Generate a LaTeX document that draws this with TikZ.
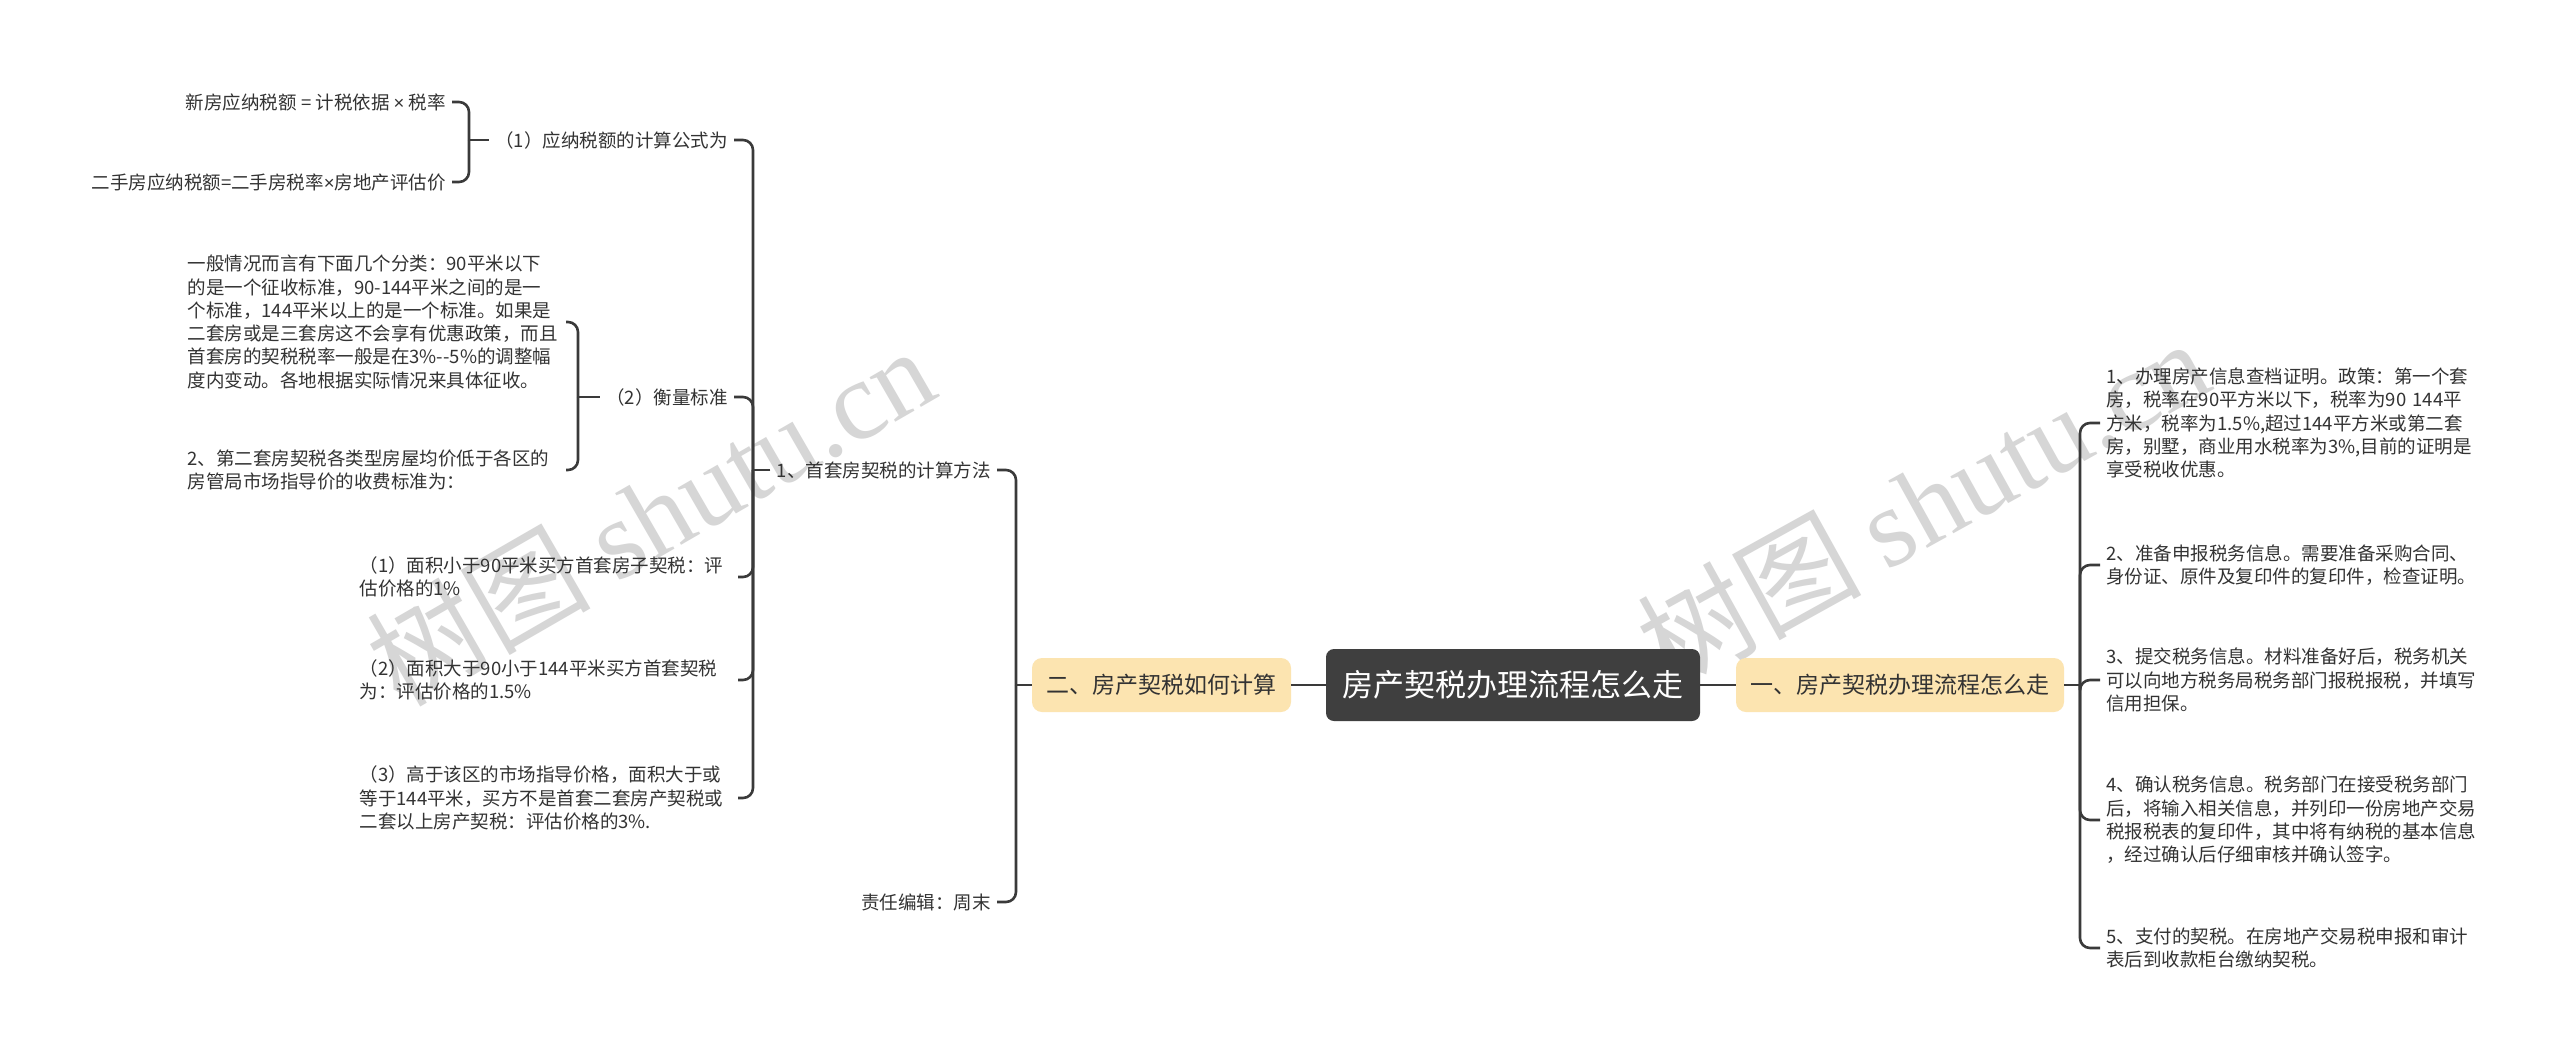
\documentclass[tikz,border=0pt]{standalone}
\usepackage{fontspec}
\setmainfont{Noto Sans CJK SC}
\newfontfamily\wmlatin{Liberation Serif}
\newfontfamily\latinsans{Liberation Sans}
\definecolor{connc}{HTML}{3A3A3A}
\definecolor{txtc}{HTML}{333333}
\definecolor{rootfill}{HTML}{3F3F3F}
\definecolor{brfill}{HTML}{FCE4B0}
\definecolor{wmc}{HTML}{D6D6D6}
\begin{document}
\begin{tikzpicture}[x=0.5pt,y=-0.5pt,
 conn/.style={draw=connc, line width=1.3pt},
 elbow/.style={conn, rounded corners=5pt},
 leaf/.style={text=txtc, font=\fontsize{9.25pt}{11.65pt}\selectfont, inner xsep=3pt, inner ysep=0pt, align=left},
 para/.style={leaf, text width=186pt},
 rootbox/.style={fill=rootfill, rounded corners=4pt, text=white, font=\fontsize{15.5pt}{18pt}\selectfont, minimum width=187pt, minimum height=36pt, inner sep=0pt},
 branch/.style={fill=brfill, rounded corners=5pt, text=txtc, font=\fontsize{11.5pt}{14pt}\selectfont, minimum height=27pt, inner sep=0pt},
 wm/.style={text=wmc, font=\fontsize{56pt}{56pt}\selectfont, inner sep=0pt}
]
\useasboundingbox[fill=white] (0,0) rectangle (2560,1057);

% watermarks
\node[wm, rotate=30] (wm1) at (650,515) {树图 {\wmlatin shutu.cn}};
\node[wm, rotate=29] (wm2) at (1922,503) {树图 {\wmlatin shutu.cn}};

% centre and main branches
\node[rootbox] (root) at (1513,685) {房产契税办理流程怎么走};
\node[branch, minimum width=164pt] (rb) at (1900,685) {一、房产契税办理流程怎么走};
\node[branch, minimum width=129.5pt] (lb) at (1161.5,685) {二、房产契税如何计算};
\draw[conn] (root.east) -- (rb.west);
\draw[conn] (root.west) -- (lb.east);

% right side items
\node[para, anchor=west] (r1) at (2100,423) {1、办理房产信息查档证明。政策：第一个套\\房，税率在90平方米以下，税率为90 144平\\方米，税率为1.5\%,超过144平方米或第二套\\房，别墅，商业用水税率为3\%,目前的证明是\\享受税收优惠。};
\node[para, anchor=west] (r2) at (2100,565) {2、准备申报税务信息。需要准备采购合同、\\身份证、原件及复印件的复印件，检查证明。};
\node[para, anchor=west] (r3) at (2100,680) {3、提交税务信息。材料准备好后，税务机关\\可以向地方税务局税务部门报税报税，并填写\\信用担保。};
\node[para, anchor=west] (r4) at (2100,820) {4、确认税务信息。税务部门在接受税务部门\\后，将输入相关信息，并列印一份房地产交易\\税报税表的复印件，其中将有纳税的基本信息\\，经过确认后仔细审核并确认签字。};
\node[para, anchor=west] (r5) at (2100,948) {5、支付的契税。在房地产交易税申报和审计\\表后到收款柜台缴纳契税。};
\coordinate (rt) at (2080,685);
\draw[conn] (rb.east) -- (rt);
\foreach \n in {r1,r2,r3,r4,r5} \draw[elbow] (rt) |- (\n.west);

% left side level 1
\node[leaf, anchor=east] (l1) at (997,470) {1、首套房契税的计算方法};
\node[leaf, anchor=east] (l2) at (997,902) {责任编辑：周末};
\coordinate (lt) at (1016,685);
\draw[conn] (lb.west) -- (lt);
\foreach \n in {l1,l2} \draw[elbow] (lt) |- (\n.east);

% children of l1
\node[leaf, anchor=east] (a1) at (734,140) {（1）应纳税额的计算公式为};
\node[leaf, anchor=east] (a2) at (734,397) {（2）衡量标准};
\node[para, anchor=east] (a3) at (738,577) {（1）面积小于90平米买方首套房子契税：评\\估价格的1\%};
\node[para, anchor=east] (a4) at (738,680) {（2）面积大于90小于144平米买方首套契税\\为：评估价格的1.5\%};
\node[para, anchor=east] (a5) at (738,798) {（3）高于该区的市场指导价格，面积大于或\\等于144平米，买方不是首套二套房产契税或\\二套以上房产契税：评估价格的3\%.};
\coordinate (t1) at (753,470);
\draw[conn] (l1.west) -- (t1);
\foreach \n in {a1,a2,a3,a4,a5} \draw[elbow] (t1) |- (\n.east);

% children of a1
\node[leaf, anchor=east] (c1) at (452,102) {新房应纳税额 = 计税依据 {\latinsans ×} 税率};
\node[leaf, anchor=east] (c2) at (452,182) {二手房应纳税额=二手房税率{\latinsans ×}房地产评估价};
\coordinate (t2) at (469,140);
\draw[conn] (a1.west) -- (t2);
\foreach \n in {c1,c2} \draw[elbow] (t2) |- (\n.east);

% children of a2
\node[para, anchor=east] (d1) at (566,322) {一般情况而言有下面几个分类：90平米以下\\的是一个征收标准，90-144平米之间的是一\\个标准，144平米以上的是一个标准。如果是\\二套房或是三套房这不会享有优惠政策，而且\\首套房的契税税率一般是在3\%-{}-5\%的调整幅\\度内变动。各地根据实际情况来具体征收。};
\node[para, anchor=east] (d2) at (566,470) {2、第二套房契税各类型房屋均价低于各区的\\房管局市场指导价的收费标准为：};
\coordinate (t3) at (578,397);
\draw[conn] (a2.west) -- (t3);
\foreach \n in {d1,d2} \draw[elbow] (t3) |- (\n.east);
\end{tikzpicture}
\end{document}
